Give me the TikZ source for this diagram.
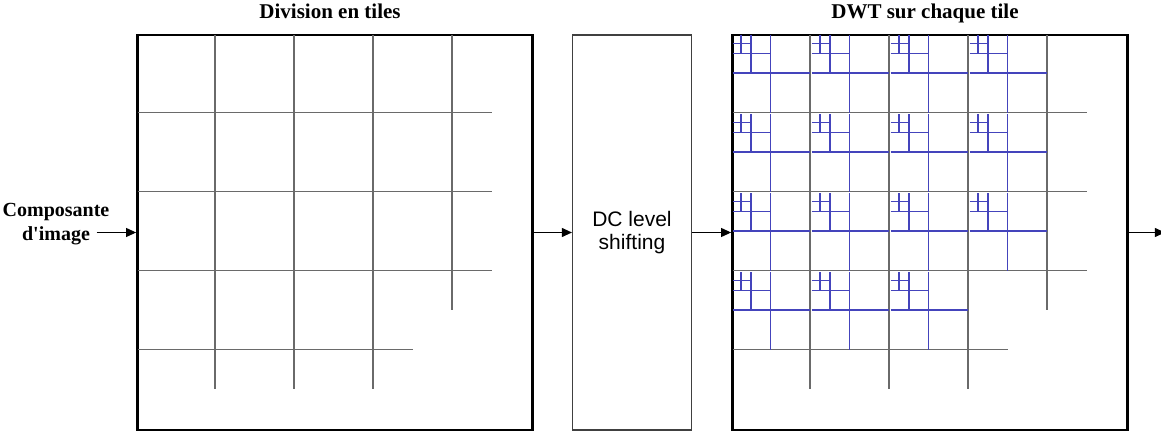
\documentclass[tikz,border=0pt]{standalone}
\usepackage{fontspec}
\setmainfont{Liberation Serif}
\newfontfamily\arialfont{Liberation Sans}
\usetikzlibrary{arrows.meta,positioning}
\definecolor{TileGrid}{HTML}{6A6A6A}
\definecolor{WaveBlue}{HTML}{4444BC}

\begin{document}
\begin{tikzpicture}[x=0.5pt,y=-0.5pt,
  frame/.style={rectangle,draw=black,line width=1.4pt,minimum width=197.5pt,minimum height=197.5pt,inner sep=0pt},
  shiftbox/.style={rectangle,draw=black!75,line width=0.6pt,minimum width=59.5pt,minimum height=197.5pt,align=center,font=\arialfont\fontsize{10.5}{11.75}\selectfont},
  heading/.style={font=\bfseries\fontsize{10.5}{12}\selectfont,anchor=base,inner sep=0pt},
  source/.style={font=\bfseries\fontsize{10}{12}\selectfont,align=center,inner sep=0pt},
  gridline/.style={draw=TileGrid,line width=0.85pt},
  waveline/.style={draw=WaveBlue,line width=0.65pt},
  arrow/.style={-{Triangle[length=5pt,width=4.5pt]},draw=black,line width=0.5pt}
]
\useasboundingbox (0,0) rectangle (1161,432);
\node[frame] (tiles) at (335,232.5) {};
\node[shiftbox,right=19pt of tiles] (dc) {DC level\\shifting};
\node[frame,right=19.5pt of dc] (dwt) {};
\node[heading] (tilestitle) at ([xshift=-2.5pt,yshift=7.5pt]tiles.north) {Division en tiles};
\node[heading] (dwttitle) at ([xshift=-2.5pt,yshift=7.5pt]dwt.north) {DWT sur chaque tile};
\node[source] (src) at (56,224) {Composante\\d\textquotesingle image};
\coordinate[left=19.75pt of tiles.west] (in);
\coordinate[right=18pt of dwt.east] (out);

\foreach \frm in {tiles,dwt}{
  \begin{scope}[shift={(\frm.north west)}]
    \foreach \k in {1,2,3}{
      \draw[gridline] (\k*79,1.5) -- (\k*79,355.5);
      \draw[gridline] (1.5,\k*79) -- (355.5,\k*79);
    }
    \draw[gridline] (316,1.5) -- (316,276.5);
    \draw[gridline] (1.5,316) -- (276.5,316);
  \end{scope}
}

\begin{scope}[shift={(dwt.north west)}]
  \foreach \c/\r in {0/0,1/0,2/0,3/0,0/1,1/1,2/1,3/1,0/2,1/2,2/2,3/2,0/3,1/3,2/3}{
    \begin{scope}[shift={(\c*79,\r*79)}]
      \draw[waveline] (39.5,1.5) -- (39.5,79) (1.5,39.5) -- (79,39.5)
        (19.75,1.5) -- (19.75,39.5) (1.5,19.75) -- (39.5,19.75)
        (9.875,1.5) -- (9.875,19.75) (1.5,9.875) -- (19.75,9.875);
    \end{scope}
  }
\end{scope}

\draw[arrow] (in) -- (tiles.west);
\draw[arrow] (tiles.east) -- (dc.west);
\draw[arrow] (dc.east) -- (dwt.west);
\draw[arrow] (dwt.east) -- (out);
\end{tikzpicture}
\end{document}
